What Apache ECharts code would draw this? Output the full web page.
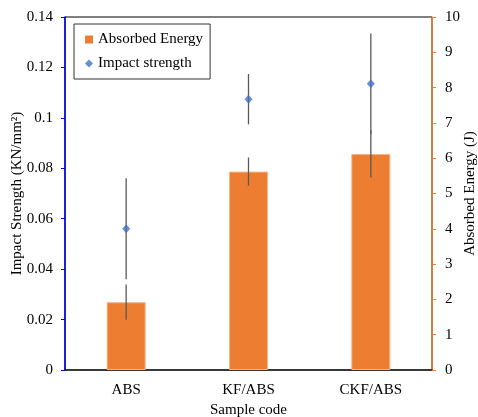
<!DOCTYPE html>
<html>
<head>
<meta charset="utf-8">
<script src="https://cdn.jsdelivr.net/npm/echarts@6/dist/echarts.min.js"></script>
<style>
html,body{margin:0;padding:0;background:#fff;}
#chart{width:478px;height:417px;}
</style>
</head>
<body>
<div id="chart"></div>
<script>
var categories = ['ABS', 'KF/ABS', 'CKF/ABS'];
var energy = [1.92, 5.62, 6.12];        // Absorbed Energy (J)
var energyErr = [0.5, 0.4, 0.67];
var impact = [0.056, 0.1074, 0.1135];    // Impact strength (KN/mm2)
var impactErr = [0.02, 0.01, 0.02];

var font = 'Liberation Serif';

// error bar data: [category index, low, high]
var energyBars = energy.map(function(v, i){ return [i, v - energyErr[i], v + energyErr[i]]; });
var impactBars = impact.map(function(v, i){ return [i, v - impactErr[i], v + impactErr[i]]; });

function errorRender(params, api){
    var x = api.value(0);
    var lo = api.coord([x, api.value(1)]);
    var hi = api.coord([x, api.value(2)]);
    return {
        type: 'line',
        shape: {x1: lo[0], y1: lo[1], x2: hi[0], y2: hi[1]},
        style: {stroke: '#5a5a5a', lineWidth: 1.3}
    };
}

var chart = echarts.init(document.getElementById('chart'));
chart.setOption({
    animation: false,
    textStyle: {fontFamily: font},
    grid: {
        left: 65, right: 46, top: 17, bottom: 47,
        containLabel: false,
        outerBoundsMode: 'none',
        show: true, borderColor: '#000', borderWidth: 1
    },
    legend: {
        orient: 'vertical',
        left: 74, top: 24,
        padding: [8, 7, 8, 11],
        itemGap: 9,
        itemWidth: 8, itemHeight: 8,
        borderColor: '#333', borderWidth: 1,
        textStyle: {fontFamily: font, fontSize: 15, color: '#000'},
        data: [
            {name: 'Absorbed Energy', icon: 'rect', itemStyle: {borderWidth: 0}},
            {name: 'Impact strength', icon: 'diamond'}
        ]
    },
    xAxis: {
        type: 'category',
        data: categories,
        name: 'Sample code',
        nameLocation: 'middle',
        nameGap: 33,
        nameMoveOverlap: false,
        nameTextStyle: {fontFamily: font, fontSize: 15, color: '#000'},
        axisLine: {lineStyle: {color: '#222', width: 1.5}},
        axisTick: {show: false},
        axisLabel: {fontFamily: font, fontSize: 15, color: '#000', margin: 13}
    },
    yAxis: [
        {
            type: 'value',
            min: 0, max: 0.14, interval: 0.02,
            name: 'Impact Strength (KN/mm²)',
            nameLocation: 'middle',
            nameGap: 40,
            nameMoveOverlap: false,
            nameTextStyle: {fontFamily: font, fontSize: 15, color: '#000'},
            axisLine: {show: true, lineStyle: {color: '#0000ee', width: 1.5}},
            axisTick: {show: true, length: 4, lineStyle: {color: '#0000ee'}},
            axisLabel: {
                fontFamily: font, fontSize: 15, color: '#000', margin: 12,
                formatter: function(v){ return String(+v.toFixed(2)); }
            },
            splitLine: {show: false}
        },
        {
            type: 'value',
            min: 0, max: 10, interval: 1,
            name: 'Absorbed Energy (J)',
            nameLocation: 'middle',
            nameGap: 31,
            nameMoveOverlap: false,
            nameTextStyle: {fontFamily: font, fontSize: 15, color: '#000'},
            axisLine: {show: true, lineStyle: {color: '#ED7D31', width: 1.5}},
            axisTick: {show: true, length: 4, lineStyle: {color: '#ED7D31'}},
            axisLabel: {fontFamily: font, fontSize: 15, color: '#000', margin: 13},
            splitLine: {show: false}
        }
    ],
    series: [
        {
            name: 'Absorbed Energy',
            type: 'bar',
            yAxisIndex: 1,
            data: energy,
            barWidth: 39,
            itemStyle: {color: '#ED7D31', borderColor: '#F6B48A', borderWidth: 1}
        },
        {
            name: 'energyErr',
            type: 'custom',
            yAxisIndex: 1,
            data: energyBars,
            renderItem: errorRender,
            z: 5
        },
        {
            name: 'impactErr',
            type: 'custom',
            yAxisIndex: 0,
            data: impactBars,
            renderItem: errorRender,
            z: 5
        },
        {
            name: 'Impact strength',
            type: 'scatter',
            yAxisIndex: 0,
            data: impact,
            symbol: 'diamond',
            symbolSize: [8, 9],
            itemStyle: {color: '#4472C4'},
            z: 10
        }
    ]
});
</script>
</body>
</html>
